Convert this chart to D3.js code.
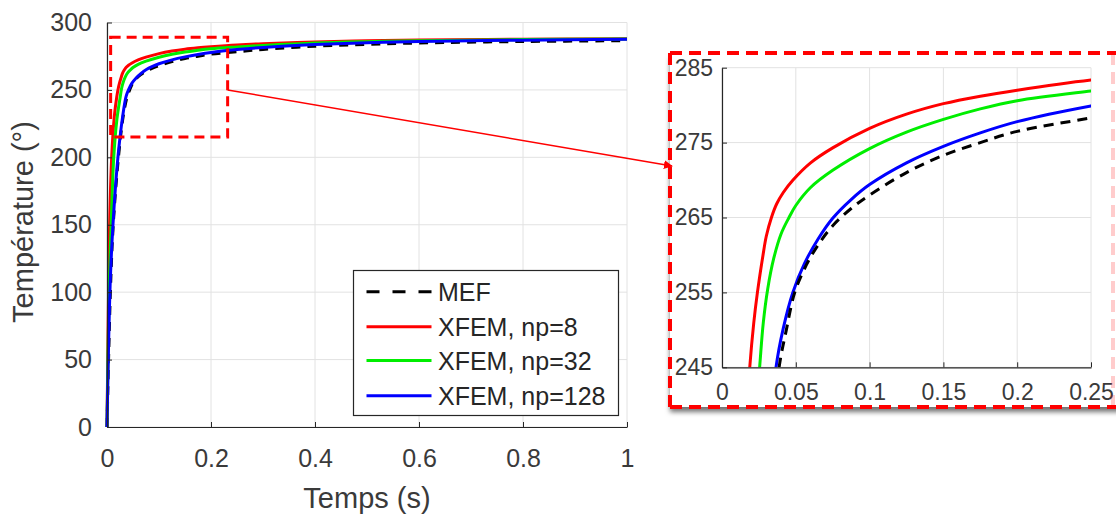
<!DOCTYPE html>
<html><head><meta charset="utf-8">
<script src="https://cdn.jsdelivr.net/npm/d3@7"></script>
<style>
body{margin:0;background:#fff}
text{font-family:"Liberation Sans",Arial,Helvetica,sans-serif}
</style></head>
<body><svg id="c" width="1116" height="518"></svg>
<script>
// ---------- data ----------
const seriesNames = ["MEF", "XFEM, np=8", "XFEM, np=32", "XFEM, np=128"];
const mefT   = [0, 0.0065, 0.012, 0.022, 0.031, 0.0387, 0.0436, 0.0493, 0.057, 0.065, 0.075, 0.0875, 0.1, 0.125, 0.15, 0.175, 0.2, 0.25, 0.3, 0.4, 0.5, 0.6, 0.8, 1.0];
const mefV   = [0, 100, 150, 200, 230, 245, 250, 255, 258.6, 261.3, 263.9, 266.2, 268.0, 271.0, 273.3, 275.0, 276.5, 278.3, 280, 282.4, 283.8, 284.8, 285.9, 286.5];
const np8T   = [0, 0.003, 0.005, 0.009, 0.014, 0.0188, 0.0215, 0.024, 0.0278, 0.030, 0.0335, 0.037, 0.0414, 0.0481, 0.06, 0.075, 0.1, 0.125, 0.15, 0.175, 0.2, 0.25, 0.3, 0.4, 0.5, 0.6, 0.8, 1.0];
const np8V   = [0, 100, 150, 200, 230, 245, 250.9, 255, 260, 262.5, 265, 266.8, 268.3, 270.0, 272.3, 274.3, 276.9, 278.8, 280.2, 281.2, 282.0, 283.35, 284.3, 285.6, 286.4, 287, 287.6, 288];
const np32T  = [0, 0.004, 0.008, 0.013, 0.019, 0.0255, 0.028, 0.031, 0.035, 0.04, 0.0454, 0.05, 0.06, 0.075, 0.1, 0.125, 0.15, 0.175, 0.2, 0.25, 0.3, 0.4, 0.5, 0.6, 0.8, 1.0];
const np32V  = [0, 100, 150, 200, 228, 245, 251, 255.5, 259.5, 262.8, 265, 266.6, 269.0, 271.3, 274.2, 276.4, 278.1, 279.5, 280.6, 281.9, 283, 284.8, 285.8, 286.5, 287.3, 287.8];
const np128T = [0, 0.006, 0.0115, 0.021, 0.03, 0.0366, 0.0415, 0.048, 0.056, 0.065, 0.075, 0.0875, 0.1, 0.125, 0.15, 0.175, 0.2, 0.25, 0.3, 0.4, 0.5, 0.6, 0.8, 1.0];
const np128V = [0, 105, 150, 200, 230, 245, 250.2, 255, 258.9, 262.1, 264.9, 267.4, 269.4, 272.3, 274.5, 276.3, 277.8, 279.9, 281.5, 283.6, 285, 285.9, 286.9, 287.5];

const mainXTicks = [0, 0.2, 0.4, 0.6, 0.8, 1];
const mainYTicks = [0, 50, 100, 150, 200, 250, 300];
const insetXTicks = [0, 0.05, 0.1, 0.15, 0.2, 0.25];
const insetYTicks = [245, 255, 265, 275, 285];
const zoomBoxT = [0.007, 0.232];
const zoomBoxTemp = [215, 289];
const xLabel = "Temps (s)";
const yLabel = "Température (°)";

// ---------- setup ----------
const svg = d3.select("#c");
svg.append("rect").attr("width",1116).attr("height",518).attr("fill","#fff");
const defs = svg.append("defs");
const axisCol = "#262626", textCol = "#3a3a3a", gridCol = "#e2e2e2";
const colors = ["#000000", "#ff0000", "#00ee00", "#0000ff"];
const series = [
  {name: seriesNames[0], t: mefT, v: mefV, c: colors[0], dash: true},
  {name: seriesNames[1], t: np8T, v: np8V, c: colors[1]},
  {name: seriesNames[2], t: np32T, v: np32V, c: colors[2]},
  {name: seriesNames[3], t: np128T, v: np128V, c: colors[3]}
];
const pts = s => s.t.map((t,i)=>[t, s.v[i]]);
const fmt = d => String(+d.toFixed(3));
const curve = d3.curveCatmullRom.alpha(0.5);

// ---------- main plot ----------
const x = d3.scaleLinear().domain([0,1]).range([107,627]);
const y = d3.scaleLinear().domain([0,300]).range([427,22.5]);
const gMain = svg.append("g");

mainXTicks.forEach(d=>gMain.append("line").attr("x1",x(d)).attr("x2",x(d)).attr("y1",y(0)).attr("y2",y(300)).attr("stroke",gridCol).attr("stroke-width",1));
mainYTicks.forEach(d=>gMain.append("line").attr("x1",x(0)).attr("x2",x(1)).attr("y1",y(d)).attr("y2",y(d)).attr("stroke",gridCol).attr("stroke-width",1));

const lineMain = d3.line().x(d=>x(d[0])).y(d=>y(d[1])).curve(curve);
series.forEach(s=>{
  gMain.append("path").datum(pts(s)).attr("d",lineMain).attr("fill","none")
    .attr("stroke",s.c).attr("stroke-width",3)
    .attr("stroke-dasharray", s.dash ? "9,7" : null);
});

function styleAxis(g, fs){
  g.select(".domain").attr("stroke",axisCol).attr("stroke-width",1.2);
  g.selectAll(".tick line").attr("stroke",axisCol).attr("stroke-width",1);
  g.selectAll("text").attr("fill",textCol).style("font-size",fs+"px").style("font-family",'"Liberation Sans",Arial,sans-serif');
}
const xAx = gMain.append("g").attr("transform",`translate(0,${y(0)})`)
  .call(d3.axisBottom(x).tickValues(mainXTicks).tickFormat(fmt).tickSizeInner(-5).tickSizeOuter(0).tickPadding(22));
styleAxis(xAx, 25);
const yAx = gMain.append("g").attr("transform",`translate(${x(0)},0)`)
  .call(d3.axisLeft(y).tickValues(mainYTicks).tickFormat(fmt).tickSizeInner(-5).tickSizeOuter(0).tickPadding(15));
styleAxis(yAx, 25);

gMain.append("text").attr("x",367).attr("y",508).attr("text-anchor","middle")
  .attr("fill",textCol).style("font-size","29px").text(xLabel);
gMain.append("text").attr("transform","translate(33,222) rotate(-90)").attr("text-anchor","middle")
  .attr("fill",textCol).style("font-size","29px").text(yLabel);

// legend
const lg = gMain.append("g");
lg.append("rect").attr("x",353.5).attr("y",270.5).attr("width",265).attr("height",145)
  .attr("fill","#fff").attr("stroke",axisCol).attr("stroke-width",1.2);
const rowY = [291.7, 326.7, 360.5, 395.7];
series.forEach((s,i)=>{
  lg.append("line").attr("x1",366.5).attr("x2",431.5).attr("y1",rowY[i]).attr("y2",rowY[i])
    .attr("stroke",s.c).attr("stroke-width",3).attr("stroke-dasharray", s.dash ? "13,13" : null);
  lg.append("text").attr("x",438).attr("y",rowY[i]).attr("dy","0.36em").attr("fill","#262626")
    .style("font-size","25px").text(s.name);
});

// zoom box
gMain.append("rect").attr("x",x(zoomBoxT[0])).attr("y",y(zoomBoxTemp[1]))
  .attr("width",x(zoomBoxT[1])-x(zoomBoxT[0])).attr("height",y(zoomBoxTemp[0])-y(zoomBoxTemp[1]))
  .attr("fill","none").attr("stroke","#ff0000").attr("stroke-width",3).attr("stroke-dasharray","10,6");

// ---------- inset ----------
const frame = {l:670, t:53, r:1113, b:407};
const shadow = defs.append("filter").attr("id","sh").attr("x","-5%").attr("y","-5%").attr("width","110%").attr("height","120%");
shadow.append("feDropShadow").attr("dx",0).attr("dy",5).attr("stdDeviation",2.5).attr("flood-color","#000").attr("flood-opacity",0.55);
svg.append("rect").attr("x",frame.l).attr("y",frame.t).attr("width",1116-frame.l+10).attr("height",frame.b-frame.t)
  .attr("fill","#fff").attr("filter","url(#sh)");

const xi = d3.scaleLinear().domain([0,0.25]).range([722,1091]);
const yi = d3.scaleLinear().domain([245,285]).range([367.3,67.7]);
const gIn = svg.append("g");
insetXTicks.forEach(d=>gIn.append("line").attr("x1",xi(d)).attr("x2",xi(d)).attr("y1",yi(245)).attr("y2",yi(285)).attr("stroke",gridCol).attr("stroke-width",1));
insetYTicks.forEach(d=>gIn.append("line").attr("x1",xi(0)).attr("x2",xi(0.25)).attr("y1",yi(d)).attr("y2",yi(d)).attr("stroke",gridCol).attr("stroke-width",1));

defs.append("clipPath").attr("id","clipIn").append("rect")
  .attr("x",xi(0)).attr("y",yi(285)).attr("width",xi(0.25)-xi(0)).attr("height",yi(245)-yi(285));
const lineIn = d3.line().x(d=>xi(d[0])).y(d=>yi(d[1])).curve(curve);
const gLines = gIn.append("g").attr("clip-path","url(#clipIn)");
[1,2,3,0].forEach(i=>{
  const s = series[i];
  gLines.append("path").datum(pts(s)).attr("d",lineIn).attr("fill","none")
    .attr("stroke",s.c).attr("stroke-width",3)
    .attr("stroke-dasharray", s.dash ? "10,7" : null);
});
const xiAx = gIn.append("g").attr("transform",`translate(0,${yi(245)})`)
  .call(d3.axisBottom(xi).tickValues(insetXTicks).tickFormat(fmt).tickSizeInner(-5).tickSizeOuter(0).tickPadding(16));
styleAxis(xiAx, 23);
const yiAx = gIn.append("g").attr("transform",`translate(${xi(0)},0)`)
  .call(d3.axisLeft(yi).tickValues(insetYTicks).tickFormat(fmt).tickSizeInner(-5).tickSizeOuter(0).tickPadding(9));
styleAxis(yiAx, 23);

// inset frame (dashed)
const fr = svg.append("g").attr("stroke","#ff0000").attr("stroke-width",4).attr("stroke-dasharray","12,7").attr("fill","none");
fr.append("line").attr("x1",frame.l).attr("x2",1116).attr("y1",frame.t).attr("y2",frame.t);
fr.append("line").attr("x1",frame.l).attr("x2",1116).attr("y1",frame.b).attr("y2",frame.b);
fr.append("line").attr("x1",frame.l).attr("x2",frame.l).attr("y1",frame.t).attr("y2",frame.b);
fr.append("line").attr("x1",frame.r).attr("x2",frame.r).attr("y1",frame.t).attr("y2",frame.b).attr("stroke-opacity",0.2);

// arrow
defs.append("marker").attr("id","ah").attr("viewBox","0 0 10 10").attr("refX",9).attr("refY",5)
  .attr("markerWidth",9).attr("markerHeight",9).attr("markerUnits","userSpaceOnUse").attr("orient","auto")
  .append("path").attr("d","M0,0 L10,5 L0,10 Z").attr("fill","#ff0000");
svg.append("line").attr("x1",x(zoomBoxT[1])).attr("y1",y(250)).attr("x2",frame.l+2).attr("y2",166)
  .attr("stroke","#ff0000").attr("stroke-width",1.5).attr("marker-end","url(#ah)");
</script></body></html>
